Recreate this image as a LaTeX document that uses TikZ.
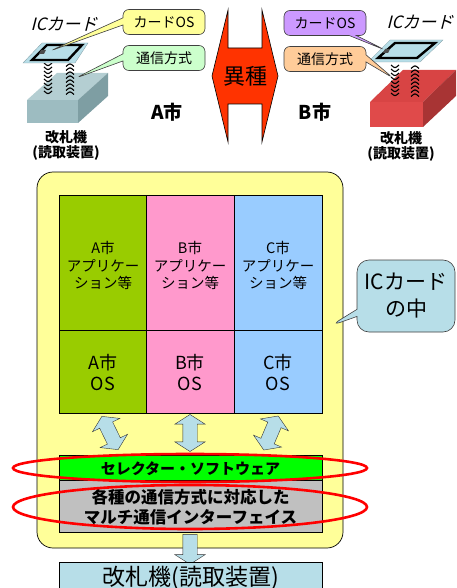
\documentclass[tikz,border=0pt]{standalone}
\usepackage{xcolor}
\usepackage{fontspec}
\setmainfont{Noto Sans CJK JP}
\newfontfamily\slantjp[FakeSlant=0.25]{Noto Sans CJK JP}
\usetikzlibrary{shapes.arrows,shapes.callouts}
\definecolor{ICBlue}{HTML}{B7DEE8}
\definecolor{ICYellow}{HTML}{FFFF99}
\definecolor{ICMint}{HTML}{CCFFCC}
\definecolor{ICViolet}{HTML}{CC99FF}
\definecolor{ICPeach}{HTML}{FFCC99}
\definecolor{ICOrange}{HTML}{FF3300}
\definecolor{ICLeaf}{HTML}{99CC00}
\definecolor{ICPink}{HTML}{FF99CC}
\definecolor{ICSky}{HTML}{99CCFF}
\definecolor{ICLime}{HTML}{00FF00}
\definecolor{ICGray}{HTML}{C0C0C0}
\definecolor{GateTop}{HTML}{B4CED2}
\definecolor{GateFront}{HTML}{9DBCC1}
\definecolor{GateSide}{HTML}{7E9EA3}
\definecolor{RedTop}{HTML}{D84444}
\definecolor{RedFront}{HTML}{E04A4A}
\definecolor{RedSide}{HTML}{A83434}
\newcommand{\fsz}[1]{\fontsize{#1}{#1}\selectfont}

\begin{document}
\begin{tikzpicture}[x=1pt,y=-1pt,
  bubble/.style={rectangle callout,rounded corners=6pt,draw=black!75,line width=0.6pt,
    minimum width=82pt,minimum height=25pt,inner sep=0pt,font=\fsz{14}},
  spring/.style={line width=1.1pt},
  fatarrow/.style={double arrow,draw=black!80,fill=ICBlue,minimum height=37pt,
    inner xsep=0pt,inner ysep=7pt,double arrow head extend=8pt,double arrow tip angle=115},
  cell/.style={align=center,font=\fsz{14.5},text depth=0pt},
  ring/.style={draw=red,line width=2.6pt}]
\useasboundingbox (0,0) rectangle (457,588);
\clip (0,0) rectangle (457,588);

% reader A with its card
\fill[GateTop] (27,100) -- (57,73) -- (108,73) -- (78,100) -- cycle;
\fill[GateSide] (78,100) -- (108,73) -- (108,96) -- (78,123) -- cycle;
\fill[GateFront] (27,100) rectangle (78,123);
\foreach \y in {63,67,...,91} {
  \draw[spring] (44,\y) .. controls (48,\y+3.5) .. (52,\y);
  \draw[spring] (66,\y+3.5) .. controls (70,\y) .. (74,\y+3.5);
}
\draw[fill=ICBlue,draw=ICBlue!70!black,line width=0.3pt] (23,63) -- (42,43) -- (88,43) -- (75,63) -- cycle;
\draw[line width=2.4pt,line join=miter] (32,60) -- (47,45) -- (82,45) -- (68,60) -- cycle;
\fill[black!70] (41,50) -- (46,50) -- (44,54) -- (39,54) -- cycle;
\coordinate (chipA) at (50,51);
\coordinate (coilA) at (76,78);

% reader B with its card
\fill[RedTop] (370,102) -- (403,70) -- (456,70) -- (423,102) -- cycle;
\fill[RedSide] (423,102) -- (456,70) -- (456,96) -- (423,127) -- cycle;
\fill[RedFront] (370,102) rectangle (423,127);
\foreach \y in {65,69,...,93} {
  \draw[spring] (391,\y) .. controls (395,\y+3.5) .. (399,\y);
  \draw[spring] (411,\y+3.5) .. controls (415,\y) .. (419,\y+3.5);
}
\draw[fill=ICBlue,draw=ICBlue!70!black,line width=0.3pt] (368,62) -- (390,40) -- (443,40) -- (420,62) -- cycle;
\draw[line width=2.4pt,line join=miter] (378,58) -- (395,43) -- (435,43) -- (417,58) -- cycle;
\fill[black!70] (385,49) -- (390,49) -- (388,53) -- (383,53) -- cycle;
\coordinate (chipB) at (385,50);
\coordinate (coilB) at (393,78);

\node[font=\slantjp\fsz{17}] (icA) at (64,24) {ICカード};
\node[font=\slantjp\fsz{17},anchor=west] (icB) at (383,22) {ICカード};

\node[bubble,fill=ICYellow,callout absolute pointer={(chipA)}] (osA) at (164,22) {カードOS};
\node[bubble,fill=ICMint,callout absolute pointer={(coilA)}] (commA) at (164,58) {通信方式};
\node[bubble,fill=ICViolet,callout absolute pointer={(chipB)}] (osB) at (325,23) {カードOS};
\node[bubble,fill=ICPeach,callout absolute pointer={(coilB)}] (commB) at (325,59) {通信方式};

\node[font=\bfseries\fsz{19}] (cityA) at (167,112) {A市};
\node[font=\bfseries\fsz{19}] (cityB) at (315,112) {B市};
\node[font=\bfseries\fsz{14},align=center] (gateA) at (66,145) {改札機\\[1pt](読取装置)};
\node[font=\bfseries\fsz{14},align=center] (gateB) at (401,146) {改札機\\[1pt](読取装置)};

% mismatch arrow
\draw[fill=ICOrange,line width=0.6pt] (212,76) -- (228,10) -- (228,48) -- (262,48) -- (262,10)
  -- (278,76) -- (262,142) -- (262,104) -- (228,104) -- (228,142) -- cycle;
\node[font=\fsz{22}] (diff) at (245,76) {異種};

% inside the card
\draw[fill=ICYellow,rounded corners=16pt,line width=0.7pt] (37,172) rectangle (343,548);
\fill[ICLeaf] (59,195) rectangle (146.5,413);
\fill[ICPink] (146.5,195) rectangle (234,413);
\fill[ICSky] (234,195) rectangle (322,413);
\draw[line width=0.6pt] (59,195) rectangle (322,413);
\draw[line width=0.6pt] (146.5,195) -- (146.5,413) (234,195) -- (234,413) (59,330) -- (322,330);

\node[cell] (appA) at (103,265) {A市\\[3pt]アプリケー\\[3pt]ション等};
\node[cell] (appB) at (190,265) {B市\\[3pt]アプリケー\\[3pt]ション等};
\node[cell] (appC) at (278,265) {C市\\[3pt]アプリケー\\[3pt]ション等};
\node[cell,font=\fsz{18}] (osCityA) at (103,372) {A市\\[3pt]OS};
\node[cell,font=\fsz{18}] (osCityB) at (190,372) {B市\\[3pt]OS};
\node[cell,font=\fsz{18}] (osCityC) at (278,372) {C市\\[3pt]OS};

\coordinate (gridEdge) at (330,326);
\node[bubble,fill=ICBlue,minimum width=98pt,minimum height=72pt,rounded corners=12pt,
  font=\fsz{21},align=center,callout absolute pointer={(gridEdge)}] (inside) at (406,296)
  {ICカード\\[6pt]の中};

\node[fatarrow,rotate=116] (linkA) at (110,433) {};
\node[fatarrow,rotate=90] (linkB) at (190,433) {};
\node[fatarrow,rotate=67] (linkC) at (271,433) {};

\draw[fill=ICLime,line width=0.6pt] (59,455) rectangle (322,480);
\node[font=\bfseries\fsz{15}] (selector) at (190.5,469) {セレクター・ソフトウェア};
\draw[fill=ICGray,line width=0.6pt] (59,480) rectangle (322,532);
\node[font=\bfseries\fsz{16.5},align=center] (multi) at (190.5,507)
  {各種の通信方式に対応した\\[3pt]マルチ通信インターフェイス};

\draw[ring] (190,468) ellipse [x radius=177,y radius=14];
\draw[ring] (190,507) ellipse [x radius=177,y radius=22];

% down to the reader
\node[single arrow,draw=black!80,fill=ICBlue,minimum height=30pt,inner xsep=0pt,inner ysep=7pt,
  single arrow head extend=8pt,single arrow tip angle=115,rotate=-90]
  (toGate) at (190,547) {};
\draw[fill=ICBlue,line width=0.6pt] (59,562) rectangle (322,600);
\node[font=\fsz{23}] (gateBox) at (190.5,578) {改札機(読取装置)};
\end{tikzpicture}
\end{document}
